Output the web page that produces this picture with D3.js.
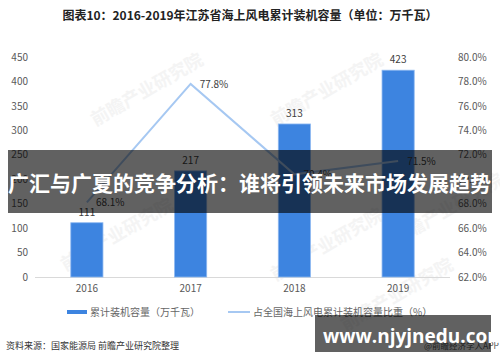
<!DOCTYPE html>
<html>
<head>
<meta charset="utf-8">
<script src="https://cdn.jsdelivr.net/npm/d3@7"></script>
<style>
body { margin: 0; background: #fff; }
svg { display: block; font-family: "Noto Sans CJK SC", "Noto Sans", sans-serif; }
</style>
</head>
<body>
<script>
// data
var years = ["2016", "2017", "2018", "2019"];
var capacity = [111, 217, 313, 423];
var share = [68.1, 77.8, 70.4, 71.5];
var leftTicks = [0, 50, 100, 150, 200, 250, 300, 350, 400, 450];
var rightTicks = [62, 64, 66, 68, 70, 72, 74, 76, 78, 80];

var width = 500, height = 362;
var svg = d3.select("body").append("svg")
	.attr("width", width)
	.attr("height", height);

// title
svg.append("text")
	.attr("x", 250).attr("y", 20)
	.attr("text-anchor", "middle")
	.attr("font-size", 12).attr("font-weight", "bold")
	.attr("fill", "#222")
	.text("图表10：2016-2019年江苏省海上风电累计装机容量（单位：万千瓦）");

// faint watermarks
var marks = [[150, 95], [330, 95], [120, 240], [330, 250], [450, 215], [400, 300]];
marks.forEach(function(m) {
	svg.append("text")
		.attr("transform", "translate(" + m[0] + "," + m[1] + ") rotate(-30)")
		.attr("text-anchor", "middle")
		.attr("font-size", 18).attr("font-weight", "bold")
		.attr("fill", "#f4f4f4")
		.text("前瞻产业研究院");
});

// scales
var x = d3.scaleBand().domain(years).range([35, 450]).paddingInner(0.69).paddingOuter(0.345);
var yL = d3.scaleLinear().domain([0, 450]).range([277, 57]);
var yR = d3.scaleLinear().domain([62, 80]).range([277, 57]);

// axes
var axL = svg.append("g").attr("transform", "translate(28,0)")
	.call(d3.axisLeft(yL).tickValues(leftTicks).tickSize(0).tickPadding(0));
var axR = svg.append("g").attr("transform", "translate(458,0)")
	.call(d3.axisRight(yR).tickValues(rightTicks).tickSize(0).tickPadding(0)
		.tickFormat(function(d) { return d3.format(".1f")(d) + "%"; }));
[axL, axR].forEach(function(a) {
	a.select(".domain").remove();
	a.selectAll("text").attr("font-size", 10).attr("fill", "#595959")
		.attr("font-family", "Noto Sans CJK SC, sans-serif");
});

// baseline
svg.append("line")
	.attr("x1", 35).attr("x2", 450).attr("y1", 277.5).attr("y2", 277.5)
	.attr("stroke", "#d9d9d9").attr("stroke-width", 1);

var axX = svg.append("g").attr("transform", "translate(0,277)")
	.call(d3.axisBottom(x).tickSize(0).tickPadding(8));
axX.select(".domain").remove();
axX.selectAll("text").attr("font-size", 10).attr("fill", "#595959")
	.attr("font-family", "Noto Sans CJK SC, sans-serif");

// bars
svg.selectAll("rect.bar")
	.data(capacity)
	.enter()
	.append("rect")
	.attr("class", "bar")
	.attr("x", function(d, i) { return x(years[i]); })
	.attr("y", function(d) { return yL(d); })
	.attr("width", x.bandwidth())
	.attr("height", function(d) { return yL(0) - yL(d); })
	.attr("fill", "#3d84e0")
	.attr("stroke", "#8db8f0").attr("stroke-width", 0.8);

svg.selectAll("text.barlab")
	.data(capacity)
	.enter()
	.append("text")
	.attr("class", "barlab")
	.attr("x", function(d, i) { return x(years[i]) + x.bandwidth() / 2; })
	.attr("y", function(d) { return yL(d) - 7; })
	.attr("text-anchor", "middle")
	.attr("font-size", 10).attr("fill", "#404040")
	.text(function(d) { return d; });

// line
var line = d3.line()
	.x(function(d, i) { return x(years[i]) + x.bandwidth() / 2; })
	.y(function(d) { return yR(d); });

svg.append("path")
	.datum(share)
	.attr("d", line)
	.attr("fill", "none")
	.attr("stroke", "#a6c8f2").attr("stroke-width", 2);

svg.selectAll("text.linelab")
	.data(share)
	.enter()
	.append("text")
	.attr("class", "linelab")
	.attr("x", function(d, i) { return x(years[i]) + x.bandwidth() / 2 + 9; })
	.attr("y", function(d) { return yR(d) + 4; })
	.attr("font-size", 10).attr("fill", "#404040")
	.text(function(d) { return d3.format(".1f")(d) + "%"; });

// legend
svg.append("rect").attr("x", 67).attr("y", 310).attr("width", 20).attr("height", 4).attr("fill", "#3d84e0");
svg.append("text").attr("x", 90).attr("y", 316).attr("font-size", 10).attr("fill", "#666")
	.text("累计装机容量（万千瓦）");
svg.append("line").attr("x1", 228).attr("x2", 250).attr("y1", 312).attr("y2", 312)
	.attr("stroke", "#a6c8f2").attr("stroke-width", 2);
svg.append("text").attr("x", 253).attr("y", 316).attr("font-size", 10).attr("fill", "#666")
	.text("占全国海上风电累计装机容量比重（%）");

// source
svg.append("text").attr("x", 6).attr("y", 349).attr("font-size", 9).attr("fill", "#333")
	.text("资料来源：国家能源局 前瞻产业研究院整理");
svg.append("text").attr("x", 499).attr("y", 349).attr("text-anchor", "end")
	.attr("font-size", 8.5).attr("fill", "#555")
	.text("@前瞻经济学人APP");

// overlay banner
svg.append("rect").attr("x", 8).attr("y", 150).attr("width", 484).attr("height", 63)
	.attr("fill", "#000").attr("opacity", 0.62);
svg.append("text").attr("x", 8).attr("y", 191)
	.attr("font-size", 21).attr("font-weight", "bold").attr("fill", "#fff")
	.text("广汇与广夏的竞争分析：谁将引领未来市场发展趋势");

// url box
svg.append("rect").attr("x", 315).attr("y", 315).attr("width", 176).attr("height", 37)
	.attr("fill", "#000").attr("opacity", 0.62);
svg.append("text").attr("x", 323).attr("y", 343)
	.attr("font-size", 19).attr("font-weight", "bold").attr("fill", "#fff")
	.attr("font-family", "Open Sans, sans-serif")
	.text("www.njyjnedu.com");
</script>
</body>
</html>
